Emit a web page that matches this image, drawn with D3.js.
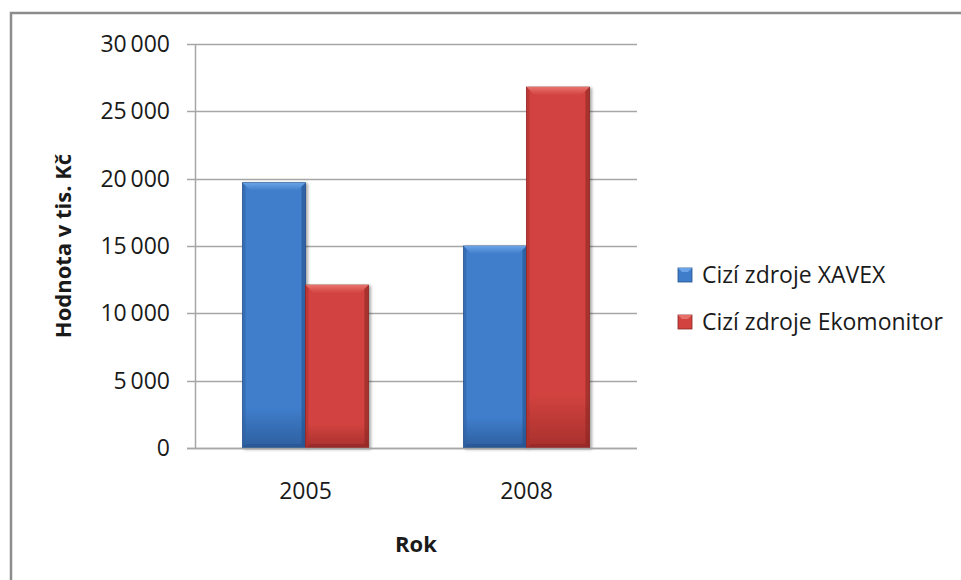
<!DOCTYPE html>
<html lang="cs">
<head>
  <meta charset="UTF-8">
  <title>Cizí zdroje</title>
  <style>
    body {
      margin: 0;
      background: #fff;
      overflow: hidden;
    }
    svg text {
      font-family: "Open Sans", Lato, sans-serif;
      fill: #1a1a1a;
    }
  </style>
</head>
<body>
  <svg></svg>
<script src="https://cdn.jsdelivr.net/npm/d3@7/dist/d3.min.js"></script>
<script>
  var width = 961
  var height = 580

  var years = ['2005', '2008']
  var seriesNames = ['Cizí zdroje XAVEX', 'Cizí zdroje Ekomonitor']
  var xavex = [19700, 15000]
  var ekomonitor = [12100, 26800]
  var yTicks = [0, 5000, 10000, 15000, 20000, 25000, 30000]

  var colors = [
    {light: '#6aa3e6', mid: '#3f7dcb', dark: '#2d5f9f', edge: '#24508a'},
    {light: '#e8706b', mid: '#d2433f', dark: '#a8302d', edge: '#8a2623'}
  ]

  var rows = years.map((y, i) => ({year: y, values: [xavex[i], ekomonitor[i]]}))

  var plot = {left: 195, right: 637, top: 44, bottom: 448}
  var fs = 23
  var fsBold = 22

  var svg = d3.select('svg')
    .attr('width', width)
    .attr('height', height)

  // frame
  svg.append('rect')
    .attr('x', 11).attr('y', 13)
    .attr('width', width).attr('height', height)
    .attr('fill', 'none')
    .attr('stroke', '#8c8c8c')
    .attr('stroke-width', 2.5)

  var x = d3.scaleBand()
    .domain(years)
    .range([plot.left, plot.right])
    .paddingInner(0.43)
    .paddingOuter(0.215)

  var xs = d3.scaleBand()
    .domain([0, 1])
    .range([0, x.bandwidth()])

  var y = d3.scaleLinear()
    .domain([0, 30000])
    .range([plot.bottom, plot.top])

  var defs = svg.append('defs')
  colors.forEach((c, i) => {
    var g = defs.append('linearGradient')
      .attr('id', 'grad' + i)
      .attr('x1', 0).attr('y1', 0).attr('x2', 0).attr('y2', 1)
    g.append('stop').attr('offset', '0%').attr('stop-color', c.mid)
    g.append('stop').attr('offset', '85%').attr('stop-color', c.mid)
    g.append('stop').attr('offset', '100%').attr('stop-color', c.dark)
    var t = defs.append('linearGradient')
      .attr('id', 'top' + i)
      .attr('x1', 0).attr('y1', 0).attr('x2', 0).attr('y2', 1)
    t.append('stop').attr('offset', '0%').attr('stop-color', c.light)
    t.append('stop').attr('offset', '100%').attr('stop-color', c.mid)
  })
  var f = defs.append('filter').attr('id', 'shadow')
    .attr('x', '-20%').attr('y', '-10%').attr('width', '150%').attr('height', '130%')
  f.append('feDropShadow')
    .attr('dx', 2).attr('dy', 1).attr('stdDeviation', 1.5)
    .attr('flood-color', '#000').attr('flood-opacity', 0.35)

  // gridlines
  svg.append('g')
    .selectAll('line')
    .data(yTicks)
    .join('line')
    .attr('x1', plot.left - 8)
    .attr('x2', plot.right)
    .attr('y1', d => Math.round(y(d)) + 0.5)
    .attr('y2', d => Math.round(y(d)) + 0.5)
    .attr('stroke', '#a6a6a6')
    .attr('stroke-width', 1.5)

  // y axis line
  svg.append('line')
    .attr('x1', plot.left + 0.5).attr('x2', plot.left + 0.5)
    .attr('y1', plot.top).attr('y2', plot.bottom)
    .attr('stroke', '#a6a6a6')
    .attr('stroke-width', 1.5)

  var fmt = d => d3.format(',')(d).replace(/,/g, '\u2009')

  svg.append('g')
    .selectAll('text')
    .data(yTicks)
    .join('text')
    .attr('x', 170)
    .attr('y', d => y(d))
    .attr('dy', '0.35em')
    .attr('text-anchor', 'end')
    .attr('font-size', fs)
    .text(d => d === 0 ? '0' : fmt(d))

  // bars
  var groups = svg.append('g')
    .selectAll('g')
    .data(rows)
    .join('g')
    .attr('transform', d => `translate(${x(d.year)},0)`)

  var bars = groups.selectAll('g')
    .data(d => d.values.map((v, i) => ({v: v, i: i})))
    .join('g')
    .attr('filter', 'url(#shadow)')

  bars.append('rect')
    .attr('x', d => xs(d.i))
    .attr('y', d => y(d.v))
    .attr('width', xs.bandwidth())
    .attr('height', d => y(0) - y(d.v))
    .attr('fill', d => `url(#grad${d.i})`)
    .attr('stroke', d => colors[d.i].edge)
    .attr('stroke-width', 0.8)

  var bev = 8
  // top bevel
  bars.append('path')
    .attr('d', d => {
      var x0 = xs(d.i), x1 = x0 + xs.bandwidth(), t = y(d.v)
      return `M${x0},${t}L${x1},${t}L${x1 - bev},${t + bev}L${x0 + bev},${t + bev}Z`
    })
    .attr('fill', d => `url(#top${d.i})`)
  // side bevels
  bars.append('path')
    .attr('d', d => {
      var x0 = xs(d.i), t = y(d.v), b = y(0)
      return `M${x0},${t}L${x0 + 3},${t + 3}L${x0 + 3},${b - 3}L${x0},${b}Z`
    })
    .attr('fill', d => colors[d.i].dark)
    .attr('opacity', 0.5)
  bars.append('path')
    .attr('d', d => {
      var x1 = xs(d.i) + xs.bandwidth(), t = y(d.v), b = y(0)
      return `M${x1},${t}L${x1 - 4},${t + 4}L${x1 - 4},${b - 4}L${x1},${b}Z`
    })
    .attr('fill', d => colors[d.i].edge)
    .attr('opacity', 0.6)
  bars.append('path')
    .attr('d', d => {
      var x0 = xs(d.i), x1 = x0 + xs.bandwidth(), b = y(0)
      return `M${x0},${b}L${x0 + 4},${b - 4}L${x1 - 4},${b - 4}L${x1},${b}Z`
    })
    .attr('fill', d => colors[d.i].edge)
    .attr('opacity', 0.5)

  // baseline over bars
  svg.append('line')
    .attr('x1', plot.left - 8).attr('x2', plot.right)
    .attr('y1', plot.bottom + 0.5).attr('y2', plot.bottom + 0.5)
    .attr('stroke', '#a6a6a6')
    .attr('stroke-width', 1.5)

  // x labels
  svg.append('g')
    .selectAll('text')
    .data(years)
    .join('text')
    .attr('x', d => x(d) + x.bandwidth() / 2)
    .attr('y', 491)
    .attr('dy', '0.35em')
    .attr('text-anchor', 'middle')
    .attr('font-size', fs)
    .text(d => d)

  svg.append('text')
    .attr('x', (plot.left + plot.right) / 2)
    .attr('y', 544)
    .attr('dy', '0.35em')
    .attr('text-anchor', 'middle')
    .attr('font-size', fsBold)
    .attr('font-weight', 'bold')
    .text('Rok')

  svg.append('text')
    .attr('transform', `translate(63,${(plot.top + plot.bottom) / 2}) rotate(-90)`)
    .attr('dy', '0.35em')
    .attr('text-anchor', 'middle')
    .attr('font-size', fsBold)
    .attr('font-weight', 'bold')
    .text('Hodnota v tis. Kč')

  // legend
  var legend = svg.append('g')
    .selectAll('g')
    .data(seriesNames)
    .join('g')
    .attr('transform', (d, i) => `translate(678,${275 + i * 47})`)

  legend.append('rect')
    .attr('x', 0).attr('y', -7)
    .attr('width', 14).attr('height', 14)
    .attr('fill', (d, i) => colors[i].mid)
    .attr('stroke', (d, i) => colors[i].edge)
    .attr('stroke-width', 0.8)
  legend.append('path')
    .attr('d', 'M0,-7L14,-7L10,-3L4,-3Z')
    .attr('fill', (d, i) => colors[i].light)

  legend.append('text')
    .attr('x', 24)
    .attr('dy', '0.35em')
    .attr('font-size', fs)
    .text(d => d)
</script>
</body>
</html>
